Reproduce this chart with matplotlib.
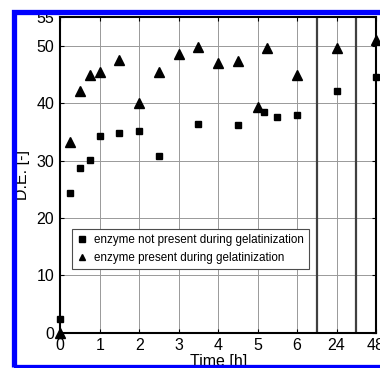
import numpy as np
import matplotlib
matplotlib.use("Agg")
import matplotlib.pyplot as plt
from matplotlib.patches import Rectangle

# time axis is broken: 0..6 h linear, then 24 h and 48 h
tick_labels = ["0", "1", "2", "3", "4", "5", "6", "24", "48"]
tick_pos = [0, 1, 2, 3, 4, 5, 6, 7, 8]
break_pos = [6.5, 7.5]

# enzyme not present during gelatinization (squares)
sq_x = [0, 0.25, 0.5, 0.75, 1, 1.5, 2, 2.5, 3.5, 4.5, 5.15, 5.5, 6, 7, 8]
sq_y = [2.4, 24.3, 28.7, 30.1, 34.3, 34.8, 35.1, 30.8, 36.4, 36.3, 38.4, 37.6, 38.0, 42.2, 44.6]

# enzyme present during gelatinization (triangles)
tr_x = [0, 0.25, 0.5, 0.75, 1, 1.5, 2, 2.5, 3, 3.5, 4, 4.5, 5, 5.25, 6, 7, 8]
tr_y = [0.0, 33.3, 42.2, 45.0, 45.5, 47.5, 40.0, 45.4, 48.6, 49.9, 47.1, 47.3, 39.3, 49.6, 45.0, 49.6, 51.0]

plt.rcParams['font.family'] = ['Liberation Sans', 'DejaVu Sans']

fig = plt.figure(figsize=(3.8, 3.68), dpi=100)
ax = fig.add_axes([60.3 / 380, (368 - 332.7) / 368, (376 - 60.3) / 380, (332.7 - 17.3) / 368])

ax.set_xlim(0, 8)
ax.set_ylim(0, 55)
ax.set_xticks(tick_pos)
ax.set_xticklabels(tick_labels)
ax.set_yticks([0, 10, 20, 30, 40, 50, 55])
ax.set_yticklabels(["0", "10", "20", "30", "40", "50", "55"])

ax.grid(True, color="0.6", linewidth=0.7)
ax.set_axisbelow(True)
for b in break_pos:
    ax.axvline(b, color="0.25", linewidth=1.6, zorder=1.5)

ax.plot(sq_x, sq_y, "s", color="black", markersize=5, clip_on=False, zorder=3,
        label="enzyme not present during gelatinization")
ax.plot(tr_x, tr_y, "^", color="black", markersize=6.5, clip_on=False, zorder=3,
        label="enzyme present during gelatinization")

ax.tick_params(direction="in", top=True, right=True, labelsize=11.5, length=3)
ax.tick_params(axis="y", pad=4.5)
ax.tick_params(axis="x", pad=4)
for s in ax.spines.values():
    s.set_linewidth(1.5)

ax.set_xlabel("Time [h]", fontsize=11.5)
ax.xaxis.set_label_coords(0.5, -0.066)
ax.set_ylabel("D.E. [-]", fontsize=11.5, va="center")
ax.yaxis.set_label_coords(-0.121, 0.5)

leg = ax.legend(loc="lower left", bbox_to_anchor=(0.036, 0.201), borderaxespad=0,
                fontsize=8.35, fancybox=False, edgecolor="0.3", framealpha=1,
                handlelength=0.8, handletextpad=0.7, borderpad=0.45, labelspacing=0.5,
                markerscale=0.75)
leg.get_frame().set_linewidth(0.8)

# blue frame around the figure
fig.patches.append(Rectangle((14.2 / 380, 1.0 / 368), 380 / 380, (367 - 12.2) / 368,
                             transform=fig.transFigure, fill=False, edgecolor="#0000ff",
                             linewidth=3.8, zorder=10))

fig.savefig("out.png", dpi=100)
